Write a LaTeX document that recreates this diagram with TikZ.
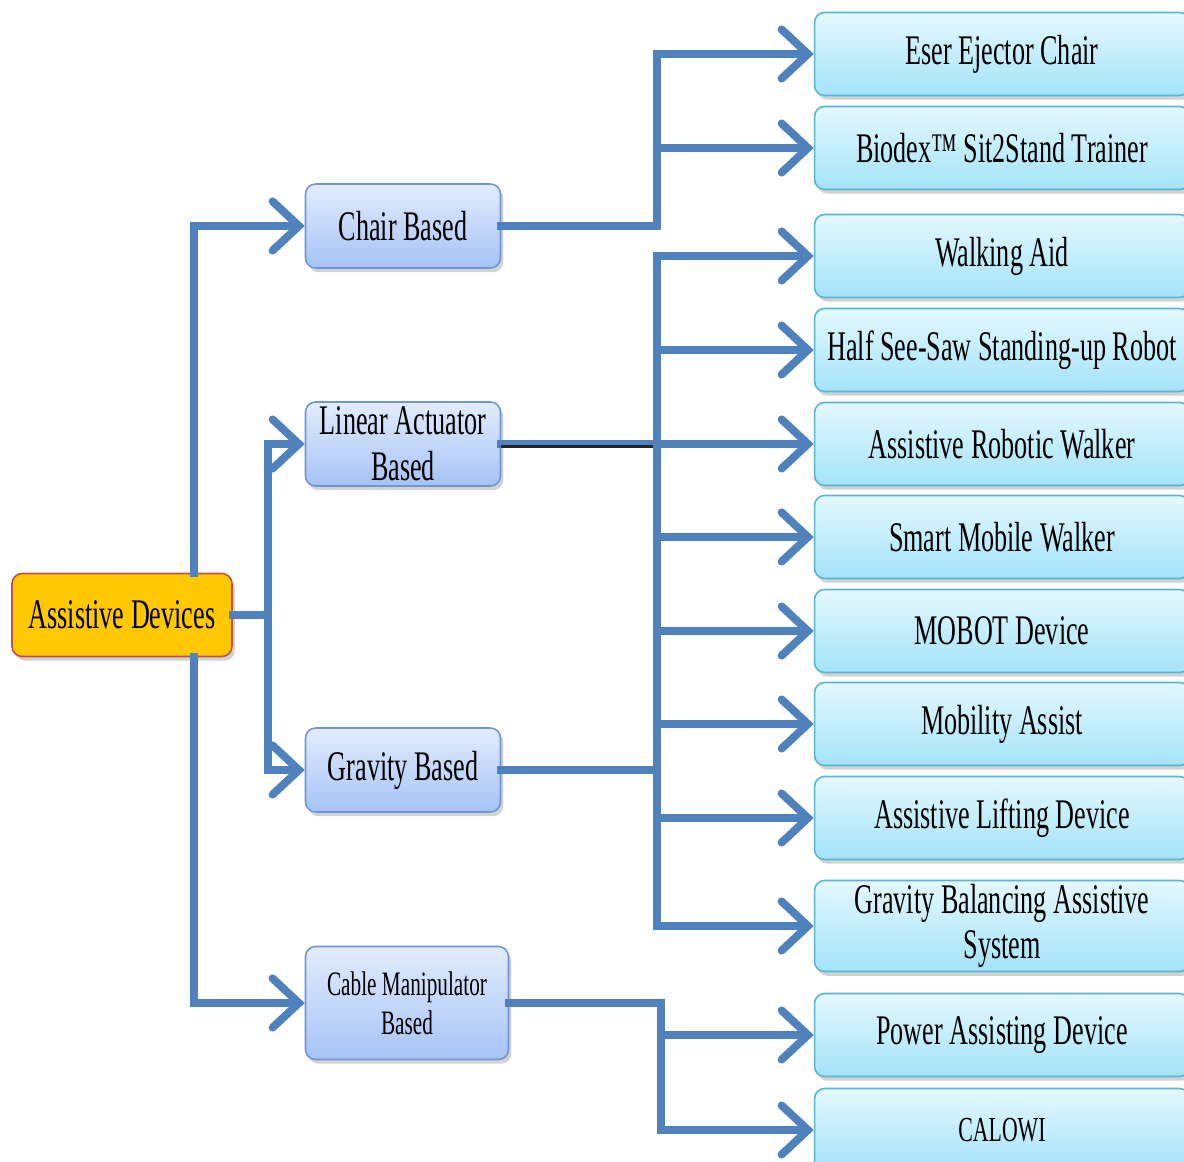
\documentclass[tikz,border=0pt]{standalone}
\usepackage{fontspec}
\setmainfont[FakeStretch=0.62]{Liberation Serif}
\usetikzlibrary{arrows.meta,shadows}

\definecolor{linkblue}{HTML}{4F81BD}
\definecolor{rootfill}{HTML}{FFC800}
\definecolor{rootedge}{HTML}{C0504D}
\definecolor{midtop}{HTML}{E2ECFD}
\definecolor{midbot}{HTML}{A6C3F6}
\definecolor{midedge}{HTML}{6F95D2}
\definecolor{leaftop}{HTML}{E4F8FE}
\definecolor{leafbot}{HTML}{A3E3F9}
\definecolor{leafedge}{HTML}{5AB4D4}

\tikzset{
  boxbase/.style={rounded corners=0.2cm, line width=0.9pt, align=center,
    inner sep=2pt, text=black,
    drop shadow={opacity=0.35, shadow xshift=1.6pt, shadow yshift=-2.4pt}},
  rootbox/.style={boxbase, draw=rootedge, fill=rootfill,
    minimum width=4.4cm, minimum height=1.66cm, font=\fontsize{24}{28}\selectfont},
  midbox/.style={boxbase, draw=midedge, top color=midtop, bottom color=midbot,
    minimum width=3.9cm, minimum height=1.68cm, font=\fontsize{24}{26}\selectfont},
  leafbox/.style={boxbase, draw=leafedge, top color=leaftop, bottom color=leafbot,
    minimum width=7.5cm, minimum height=1.66cm, font=\fontsize{24}{26}\selectfont},
  wire/.style={draw=linkblue, line width=4.5pt, line cap=rect, line join=miter},
  conn/.style={wire, -{Straight Barb[length=15pt,width=28pt,line cap=round]}},
}

\begin{document}
\begin{tikzpicture}[x=0.02cm, y=-0.02cm]
  \clip (0,0) rectangle (1184,1162);
  \fill[white] (0,0) rectangle (1184,1162);

  % root and category boxes
  \node[rootbox] (ad) at (122,615) {Assistive Devices};
  \node[midbox] (chair) at (403,226) {Chair Based};
  \node[midbox] (lin) at (403,444) {Linear Actuator\\Based};
  \node[midbox] (grav) at (403,770) {Gravity Based};
  \node[midbox, minimum width=4.06cm, minimum height=2.26cm,
        font=\fontsize{19.5}{22}\selectfont] (cable) at (407,1003)
        {Cable Manipulator\\Based};

  % device boxes
  \node[leafbox] (r1)  at (1002,54)   {Eser Ejector Chair};
  \node[leafbox] (r2)  at (1002,148)  {Biodex™ Sit2Stand Trainer};
  \node[leafbox] (r3)  at (1002,256)  {Walking Aid};
  \node[leafbox] (r4)  at (1002,350)  {Half See-Saw Standing-up Robot};
  \node[leafbox] (r5)  at (1002,444)  {Assistive Robotic Walker};
  \node[leafbox] (r6)  at (1002,537)  {Smart Mobile Walker};
  \node[leafbox] (r7)  at (1002,631)  {MOBOT Device};
  \node[leafbox] (r8)  at (1002,724)  {Mobility Assist};
  \node[leafbox] (r9)  at (1002,818)  {Assistive Lifting Device};
  \node[leafbox] (r10) at (1002,926)  {Gravity Balancing Assistive\\System};
  \node[leafbox] (r11) at (1002,1035) {Power Assisting Device};
  \node[leafbox, font=\fontsize{20}{24}\selectfont] (r12) at (1002,1130) {CALOWI};

  % vertical bus positions
  \coordinate (j1) at (194,0);
  \coordinate (j2) at (268,0);
  \coordinate (j3) at (657,0);
  \coordinate (j4) at (661,0);

  % root to categories
  \draw[conn] (ad.north -| j1) |- (chair.west);
  \draw[conn] (ad.south -| j1) |- (cable.west);
  \draw[wire] (ad.east) -- (ad.east -| j2);
  \draw[conn] (ad.east -| j2) |- (lin.west);
  \draw[conn] (ad.east -| j2) |- (grav.west);

  % chair based branch
  \draw[conn] (chair.east) -| (j3 |- r1.west) -- (r1.west);
  \draw[conn] (chair.east -| j3) |- (r2.west);

  % linear actuator and gravity branches share one bus
  \draw[wire] (j3 |- r3.west) -- (j3 |- r10.west);
  \draw[wire] (lin.east) -- (lin.east -| j3);
  \draw[draw=black!85, line width=1.7pt]
    ([yshift=-1.35pt]lin.east) -- ([yshift=-1.35pt,xshift=-2pt]lin.east -| j3);
  \draw[wire] (grav.east) -- (grav.east -| j3);
  \foreach \k in {3,...,10}
    \draw[conn] (j3 |- r\k.west) -- (r\k.west);

  % cable manipulator branch
  \draw[conn] (cable.east) -| (j4 |- r12.west) -- (r12.west);
  \draw[conn] (j4 |- r11.west) -- (r11.west);
\end{tikzpicture}
\end{document}
